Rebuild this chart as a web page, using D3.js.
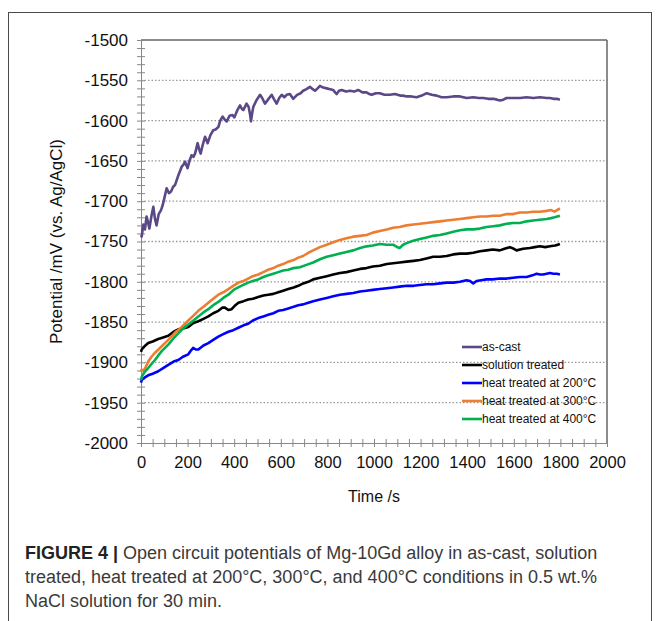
<!DOCTYPE html>
<html>
<head>
<meta charset="utf-8">
<script src="https://cdn.jsdelivr.net/npm/d3@7"></script>
<style>
  body { margin: 0; background: #fff; }
  svg { display: block; font-family: "Liberation Sans", Arial, sans-serif; }
</style>
</head>
<body>
<div class="chart"></div>
<script>
// series names and colours in legend order
var seriesNames = ["as-cast", "solution treated", "heat treated at 200°C", "heat treated at 300°C", "heat treated at 400°C"];
var seriesColors = ["#5b4887", "#000000", "#0000ff", "#ed7d31", "#00b050"];

// [time s, potential mV]
var asCast = [[0,-1742],[3,-1744],[10,-1729],[17,-1735],[24,-1719],[30,-1726],[36,-1734],[45,-1718],[53,-1707],[60,-1722],[67,-1730],[76,-1716],[86,-1711],[93,-1705],[102,-1694],[110,-1684],[120,-1690],[129,-1688],[138,-1682],[146,-1680],[160,-1668],[175,-1657],[182,-1655],[189,-1651],[200,-1659],[208,-1650],[217,-1643],[225,-1645],[232,-1641],[243,-1628],[250,-1636],[256,-1641],[265,-1630],[275,-1620],[286,-1628],[298,-1618],[310,-1612],[320,-1611],[332,-1608],[340,-1600],[350,-1595],[360,-1599],[368,-1601],[380,-1594],[392,-1593],[401,-1596],[412,-1588],[425,-1581],[432,-1585],[439,-1587],[453,-1579],[462,-1583],[468,-1592],[472,-1601],[477,-1591],[482,-1583],[495,-1575],[511,-1568],[520,-1572],[532,-1579],[545,-1574],[561,-1568],[570,-1573],[582,-1579],[593,-1572],[604,-1568],[615,-1571],[625,-1568],[639,-1567],[653,-1573],[670,-1568],[685,-1566],[696,-1563],[710,-1561],[725,-1558],[737,-1561],[747,-1563],[758,-1560],[768,-1557],[782,-1559],[797,-1560],[812,-1561],[825,-1562],[833,-1565],[840,-1567],[850,-1563],[861,-1562],[880,-1564],[897,-1563],[915,-1564],[932,-1562],[950,-1565],[968,-1565],[980,-1567],[990,-1568],[1008,-1566],[1025,-1566],[1045,-1568],[1068,-1568],[1090,-1567],[1112,-1569],[1125,-1569],[1140,-1570],[1160,-1570],[1183,-1571],[1205,-1569],[1226,-1566],[1248,-1568],[1269,-1569],[1290,-1571],[1312,-1571],[1340,-1570],[1369,-1570],[1398,-1572],[1426,-1571],[1450,-1572],[1469,-1572],[1490,-1573],[1512,-1573],[1528,-1574],[1541,-1575],[1555,-1574],[1569,-1572],[1598,-1572],[1627,-1572],[1655,-1571],[1684,-1572],[1712,-1571],[1741,-1572],[1755,-1572],[1770,-1573],[1785,-1573],[1798,-1574]];

var solutionTreated = [[0,-1887],[3,-1884],[15,-1880],[31,-1876],[50,-1874],[74,-1871],[95,-1869],[117,-1867],[140,-1862],[160,-1859],[180,-1858],[203,-1856],[225,-1851],[246,-1849],[268,-1846],[289,-1843],[310,-1839],[332,-1836],[350,-1832],[360,-1832],[375,-1835],[389,-1834],[405,-1829],[418,-1826],[440,-1824],[460,-1822],[480,-1821],[503,-1819],[525,-1817],[546,-1816],[568,-1815],[589,-1813],[610,-1811],[632,-1809],[655,-1807],[675,-1805],[696,-1802],[718,-1800],[739,-1797],[768,-1795],[797,-1793],[825,-1791],[854,-1789],[882,-1788],[911,-1786],[940,-1784],[968,-1783],[995,-1781],[1025,-1780],[1055,-1778],[1082,-1777],[1110,-1776],[1140,-1775],[1170,-1774],[1197,-1773],[1225,-1771],[1254,-1769],[1283,-1769],[1312,-1768],[1340,-1766],[1369,-1765],[1398,-1765],[1426,-1764],[1455,-1762],[1483,-1761],[1510,-1760],[1540,-1761],[1560,-1759],[1583,-1757],[1600,-1759],[1612,-1761],[1640,-1759],[1669,-1758],[1690,-1757],[1712,-1756],[1735,-1757],[1755,-1756],[1778,-1755],[1798,-1753]];

var heat200 = [[0,-1925],[3,-1922],[15,-1919],[31,-1916],[50,-1914],[74,-1911],[95,-1907],[117,-1903],[140,-1899],[160,-1897],[180,-1893],[203,-1890],[215,-1885],[224,-1882],[235,-1884],[246,-1884],[268,-1879],[289,-1876],[310,-1872],[332,-1868],[353,-1865],[375,-1862],[396,-1860],[418,-1857],[440,-1854],[460,-1852],[480,-1848],[503,-1845],[525,-1843],[546,-1841],[568,-1839],[589,-1836],[610,-1835],[632,-1833],[655,-1831],[675,-1829],[696,-1828],[718,-1826],[739,-1824],[768,-1822],[797,-1820],[825,-1818],[854,-1816],[882,-1815],[911,-1814],[940,-1812],[968,-1811],[995,-1810],[1025,-1809],[1055,-1808],[1082,-1807],[1110,-1806],[1140,-1805],[1170,-1805],[1197,-1804],[1225,-1803],[1254,-1803],[1283,-1802],[1312,-1801],[1340,-1801],[1369,-1800],[1397,-1798],[1412,-1799],[1426,-1802],[1440,-1799],[1460,-1798],[1483,-1797],[1510,-1797],[1540,-1796],[1570,-1796],[1597,-1795],[1626,-1794],[1655,-1794],[1680,-1792],[1698,-1790],[1712,-1791],[1726,-1791],[1741,-1790],[1755,-1789],[1770,-1790],[1785,-1790],[1798,-1791]];

var heat300 = [[0,-1912],[3,-1909],[12,-1910],[20,-1906],[31,-1899],[45,-1893],[60,-1888],[75,-1884],[89,-1880],[103,-1876],[117,-1872],[131,-1868],[146,-1863],[160,-1860],[175,-1856],[189,-1852],[203,-1848],[225,-1842],[246,-1836],[268,-1831],[289,-1826],[310,-1821],[332,-1816],[353,-1813],[375,-1809],[396,-1805],[418,-1801],[440,-1799],[460,-1796],[480,-1793],[503,-1791],[525,-1788],[546,-1785],[568,-1783],[589,-1780],[610,-1778],[632,-1775],[655,-1773],[675,-1770],[696,-1768],[718,-1764],[739,-1761],[768,-1757],[797,-1754],[825,-1751],[854,-1748],[882,-1746],[911,-1744],[940,-1743],[968,-1742],[995,-1739],[1025,-1737],[1055,-1735],[1082,-1733],[1110,-1732],[1140,-1730],[1170,-1729],[1197,-1728],[1225,-1727],[1254,-1726],[1283,-1725],[1312,-1724],[1340,-1723],[1369,-1722],[1398,-1721],[1426,-1720],[1455,-1719],[1483,-1719],[1510,-1718],[1540,-1718],[1570,-1716],[1597,-1716],[1626,-1714],[1655,-1714],[1683,-1713],[1712,-1713],[1741,-1712],[1760,-1711],[1775,-1713],[1798,-1709]];

var heat400 = [[0,-1922],[3,-1918],[15,-1912],[31,-1907],[45,-1902],[60,-1897],[75,-1891],[89,-1886],[103,-1882],[117,-1878],[140,-1870],[160,-1864],[180,-1858],[203,-1853],[225,-1848],[246,-1843],[268,-1838],[289,-1834],[310,-1829],[332,-1825],[353,-1820],[375,-1816],[390,-1812],[403,-1809],[430,-1805],[460,-1801],[480,-1799],[503,-1797],[525,-1794],[546,-1792],[568,-1790],[589,-1788],[610,-1786],[632,-1785],[655,-1783],[682,-1782],[710,-1779],[739,-1776],[768,-1772],[797,-1769],[825,-1767],[854,-1765],[882,-1763],[911,-1761],[940,-1758],[968,-1756],[995,-1755],[1025,-1753],[1055,-1754],[1082,-1754],[1100,-1757],[1111,-1758],[1125,-1754],[1140,-1752],[1168,-1749],[1197,-1747],[1226,-1745],[1254,-1743],[1283,-1742],[1312,-1740],[1340,-1738],[1369,-1736],[1397,-1735],[1426,-1735],[1454,-1734],[1483,-1732],[1512,-1731],[1540,-1730],[1569,-1728],[1597,-1727],[1626,-1727],[1655,-1725],[1683,-1724],[1712,-1723],[1741,-1722],[1760,-1721],[1775,-1720],[1798,-1718]];

var xTicks = [0, 200, 400, 600, 800, 1000, 1200, 1400, 1600, 1800, 2000];
var yTicks = [-1500, -1550, -1600, -1650, -1700, -1750, -1800, -1850, -1900, -1950, -2000];

var captionLines = [
  ["FIGURE 4 | ", "Open circuit potentials of Mg-10Gd alloy in as-cast, solution"],
  ["", "treated, heat treated at 200°C, 300°C, and 400°C conditions in 0.5 wt.%"],
  ["", "NaCl solution for 30 min."]
];

var allSeries = [asCast, solutionTreated, heat200, heat300, heat400];

var svgWidth = 659, svgHeight = 621;
var margin = { top: 40, left: 141, right: 52, bottom: 178 };
var width = svgWidth - margin.left - margin.right;
var height = svgHeight - margin.top - margin.bottom;

var svg = d3.select(".chart").append("svg")
  .attr("width", svgWidth)
  .attr("height", svgHeight);

// outer figure frame
svg.append("rect")
  .attr("x", 8.5).attr("y", 12.5)
  .attr("width", 643).attr("height", 640)
  .attr("fill", "none")
  .attr("stroke", "#4a4a4a")
  .attr("stroke-width", 1);

var chartGroup = svg.append("g")
  .attr("transform", `translate(${margin.left}, ${margin.top})`);

var xScale = d3.scaleLinear().domain([0, 2000]).range([0, width]);
var yScale = d3.scaleLinear().domain([-2000, -1500]).range([height, 0]);

// dotted gridlines
chartGroup.append("g")
  .selectAll("line")
  .data(yTicks.filter(d => d !== -2000 && d !== -1500))
  .enter()
  .append("line")
  .attr("x1", 0).attr("x2", width)
  .attr("y1", d => yScale(d)).attr("y2", d => yScale(d))
  .attr("stroke", "#9a9a9a")
  .attr("stroke-width", 1.3)
  .attr("stroke-dasharray", "1.5,2");

// top and right plot border
chartGroup.append("line")
  .attr("x1", 0).attr("x2", width)
  .attr("y1", 0).attr("y2", 0)
  .attr("stroke", "#666").attr("stroke-width", 1.5);
chartGroup.append("line")
  .attr("x1", width).attr("x2", width)
  .attr("y1", 0).attr("y2", height)
  .attr("stroke", "#666").attr("stroke-width", 1.5);

// minor ticks crossing the axes
var yAxisMinor = d3.axisLeft(yScale).tickValues(d3.range(-2000, -1499, 10)).tickSize(4).tickFormat("");
var xAxisMinor = d3.axisBottom(xScale).tickValues(d3.range(0, 2001, 50)).tickSize(4).tickFormat("");

var yMinorG = chartGroup.append("g").call(yAxisMinor);
yMinorG.selectAll(".tick line").attr("x1", 4).attr("stroke", "#888");
yMinorG.select(".domain").attr("stroke", "#888");

var xMinorG = chartGroup.append("g")
  .attr("transform", `translate(0, ${height})`)
  .call(xAxisMinor);
xMinorG.selectAll(".tick line").attr("y1", -4).attr("stroke", "#888");
xMinorG.select(".domain").attr("stroke", "#888");

// tick labels
var yAxis = d3.axisLeft(yScale).tickValues(yTicks).tickSize(0).tickPadding(13)
  .tickFormat(d => String(d));
var yG = chartGroup.append("g").call(yAxis);
yG.select(".domain").remove();
yG.selectAll("text")
  .attr("font-size", "17px")
  .attr("font-family", "Liberation Sans, Arial, sans-serif")
  .attr("fill", "#111");

var xAxis = d3.axisBottom(xScale).tickValues(xTicks).tickSize(0).tickPadding(13)
  .tickFormat(d => String(d));
var xG = chartGroup.append("g")
  .attr("transform", `translate(0, ${height})`)
  .call(xAxis);
xG.select(".domain").remove();
xG.selectAll("text")
  .attr("font-size", "16.5px")
  .attr("font-family", "Liberation Sans, Arial, sans-serif")
  .attr("fill", "#111");

// lines
var line = d3.line()
  .x(d => xScale(d[0]))
  .y(d => yScale(d[1]));

chartGroup.selectAll(".series")
  .data(allSeries)
  .enter()
  .append("path")
  .attr("class", "series")
  .attr("d", line)
  .attr("fill", "none")
  .attr("stroke", (d, i) => seriesColors[i])
  .attr("stroke-width", 2.6)
  .attr("stroke-linejoin", "round");

// legend
var legend = svg.append("g").attr("transform", "translate(462, 347)");
var items = legend.selectAll("g")
  .data(seriesNames)
  .enter()
  .append("g")
  .attr("transform", (d, i) => `translate(0, ${i * 18})`);
items.append("line")
  .attr("x1", 0).attr("x2", 20)
  .attr("stroke", (d, i) => seriesColors[i])
  .attr("stroke-width", 2.6);
items.append("text")
  .attr("x", 20)
  .attr("dy", "0.35em")
  .attr("font-size", "12px")
  .attr("fill", "#111")
  .text(d => d);

// axis titles
chartGroup.append("text")
  .attr("transform", `translate(${width / 2}, ${height + 59})`)
  .attr("text-anchor", "middle")
  .attr("font-size", "16px")
  .attr("fill", "#111")
  .text("Time /s");

chartGroup.append("text")
  .attr("transform", `translate(${-79}, ${height / 2}) rotate(270)`)
  .attr("text-anchor", "middle")
  .attr("font-size", "17px")
  .attr("fill", "#111")
  .text("Potential /mV (vs. Ag/AgCl)");

// caption
var caption = svg.append("g");
captionLines.forEach(function(ln, i) {
  var t = caption.append("text")
    .attr("x", 25)
    .attr("y", 559 + i * 24)
    .attr("font-size", "18px")
    .attr("fill", "#3a3a3a");
  if (ln[0]) {
    t.append("tspan").attr("font-weight", "bold").attr("fill", "#222").text(ln[0]);
  }
  t.append("tspan").text(ln[1]);
});
</script>
</body>
</html>
